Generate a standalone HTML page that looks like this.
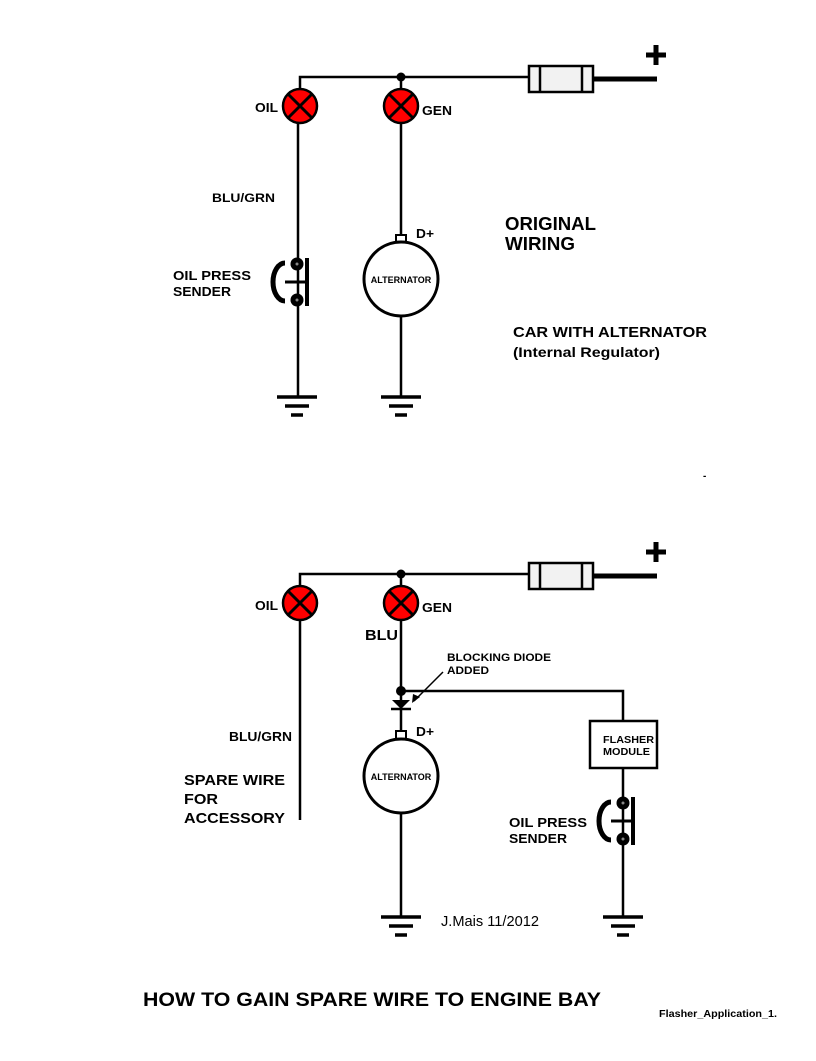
<!DOCTYPE html>
<html><head><style>
body{margin:0;background:#fff}
svg text{font-family:"Liberation Sans",Arial,sans-serif;font-weight:bold;fill:#000}
</style></head><body>
<svg width="816" height="1056" viewBox="0 0 816 1056" xmlns="http://www.w3.org/2000/svg">
<defs>
<g id="lamp"><circle r="17" fill="#f00" stroke="#000" stroke-width="2.5"/><path d="M-12,-12L12,12M12,-12L-12,12" stroke="#000" stroke-width="3"/></g>
<g id="gnd" stroke="#000" stroke-width="3.5"><path d="M-20,0H20M-12,9H12M-6,18H6"/></g>
<g id="fuse"><rect x="0" y="0" width="64" height="26" fill="#f2f2f2" stroke="#000" stroke-width="2.5"/><path d="M11,0V26M53,0V26" stroke="#000" stroke-width="2.5"/></g>
<g id="alt"><circle r="37" fill="#fff" stroke="#000" stroke-width="3"/><text x="0" y="4" font-size="9" text-anchor="middle">ALTERNATOR</text></g>
<g id="sender" fill="none" stroke="#000"><path d="M-12,-19 A12,19 0 0 0 -12,19" stroke-width="5"/><path d="M-12,0H10" stroke-width="3"/><path d="M10,-24V24" stroke-width="4"/><circle cx="0" cy="-18" r="6.5" fill="#000" stroke="none"/><circle cx="0" cy="18" r="6.5" fill="#000" stroke="none"/><circle cx="0" cy="-18" r="1.5" fill="#888" stroke="none"/><circle cx="0" cy="18" r="1.5" fill="#888" stroke="none"/></g>
</defs>
<g stroke="#000" stroke-width="2.5" fill="none">
<path d="M300,89V77H530"/>
<path d="M401,77V89M401,123V235M401,243V397"/>
<path d="M298,123V397"/>
<path d="M593,79H657" stroke-width="5"/>
<path d="M300,586V574H530"/>
<path d="M401,574V586M401,620V731M401,739V916"/>
<path d="M300,620V820"/>
<path d="M401,691H623V721M623,768V917"/>
<path d="M593,576H657" stroke-width="5"/>
<path d="M443,672L414,701" stroke-width="1.5"/>
</g>
<polygon points="412,703 413,694 420,697" fill="#000"/>
<circle cx="401" cy="77" r="4.5"/>
<circle cx="401" cy="574" r="4.5"/>
<circle cx="401" cy="691" r="5"/>
<polygon points="392,700 410,700 401,709" fill="#000"/>
<path d="M391,709H411" stroke="#000" stroke-width="2.5"/>
<use href="#fuse" x="529" y="66"/>
<use href="#fuse" x="529" y="563"/>
<path d="M656,45V65M646,55H666M656,542V562M646,552H666" stroke="#000" stroke-width="5"/>
<use href="#lamp" x="300" y="106"/><use href="#lamp" x="401" y="106"/>
<use href="#lamp" x="300" y="603"/><use href="#lamp" x="401" y="603"/>
<rect x="396" y="235" width="10" height="8" fill="#fff" stroke="#000" stroke-width="2"/>
<rect x="396" y="731" width="10" height="8" fill="#fff" stroke="#000" stroke-width="2"/>
<use href="#alt" x="401" y="279"/>
<use href="#alt" x="401" y="776"/>
<use href="#sender" x="297" y="282"/>
<use href="#sender" x="623" y="821"/>
<use href="#gnd" x="297" y="397"/>
<use href="#gnd" x="401" y="397"/>
<use href="#gnd" x="401" y="917"/>
<use href="#gnd" x="623" y="917"/>
<rect x="590" y="721" width="67" height="47" fill="#fff" stroke="#000" stroke-width="2.5"/>
<g style="font-stretch:normal">
<text x="603" y="743" font-size="10" textLength="51" lengthAdjust="spacingAndGlyphs">FLASHER</text>
<text x="603" y="755" font-size="10" textLength="47" lengthAdjust="spacingAndGlyphs">MODULE</text>
<text x="255" y="112" font-size="13" textLength="23" lengthAdjust="spacingAndGlyphs">OIL</text>
<text x="422" y="115" font-size="13" textLength="30" lengthAdjust="spacingAndGlyphs">GEN</text>
<text x="212" y="202" font-size="12" textLength="63" lengthAdjust="spacingAndGlyphs">BLU/GRN</text>
<text x="173" y="280" font-size="13" textLength="78" lengthAdjust="spacingAndGlyphs">OIL  PRESS</text>
<text x="173" y="296" font-size="13" textLength="58" lengthAdjust="spacingAndGlyphs">SENDER</text>
<text x="416" y="238" font-size="13" textLength="18" lengthAdjust="spacingAndGlyphs">D+</text>
<text x="505" y="230" font-size="18" textLength="91" lengthAdjust="spacingAndGlyphs">ORIGINAL</text>
<text x="505" y="250" font-size="18" textLength="70" lengthAdjust="spacingAndGlyphs">WIRING</text>
<text x="513" y="337" font-size="15" textLength="194" lengthAdjust="spacingAndGlyphs">CAR WITH ALTERNATOR</text>
<text x="513" y="357" font-size="14" textLength="147" lengthAdjust="spacingAndGlyphs">(Internal Regulator)</text>
<text x="703" y="479" font-size="10">-</text>
<text x="255" y="610" font-size="13" textLength="23" lengthAdjust="spacingAndGlyphs">OIL</text>
<text x="422" y="612" font-size="13" textLength="30" lengthAdjust="spacingAndGlyphs">GEN</text>
<text x="365" y="640" font-size="15" textLength="33" lengthAdjust="spacingAndGlyphs">BLU</text>
<text x="447" y="661" font-size="11" textLength="104" lengthAdjust="spacingAndGlyphs">BLOCKING DIODE</text>
<text x="447" y="674" font-size="11" textLength="42" lengthAdjust="spacingAndGlyphs">ADDED</text>
<text x="416" y="736" font-size="13" textLength="18" lengthAdjust="spacingAndGlyphs">D+</text>
<text x="229" y="741" font-size="13" textLength="63" lengthAdjust="spacingAndGlyphs">BLU/GRN</text>
<text x="184" y="785" font-size="15" textLength="101" lengthAdjust="spacingAndGlyphs">SPARE WIRE</text>
<text x="184" y="804" font-size="15" textLength="34" lengthAdjust="spacingAndGlyphs">FOR</text>
<text x="184" y="823" font-size="15" textLength="101" lengthAdjust="spacingAndGlyphs">ACCESSORY</text>
<text x="509" y="827" font-size="13" textLength="78" lengthAdjust="spacingAndGlyphs">OIL  PRESS</text>
<text x="509" y="843" font-size="13" textLength="58" lengthAdjust="spacingAndGlyphs">SENDER</text>
<text x="441" y="926" font-size="15" style="font-weight:normal" textLength="98" lengthAdjust="spacingAndGlyphs">J.Mais 11/2012</text>
<text x="143" y="1006" font-size="19" textLength="458" lengthAdjust="spacingAndGlyphs">HOW TO GAIN SPARE WIRE TO ENGINE BAY</text>
<text x="659" y="1017" font-size="10" textLength="118" lengthAdjust="spacingAndGlyphs">Flasher_Application_1.</text>
</g>
</svg>
</body></html>
